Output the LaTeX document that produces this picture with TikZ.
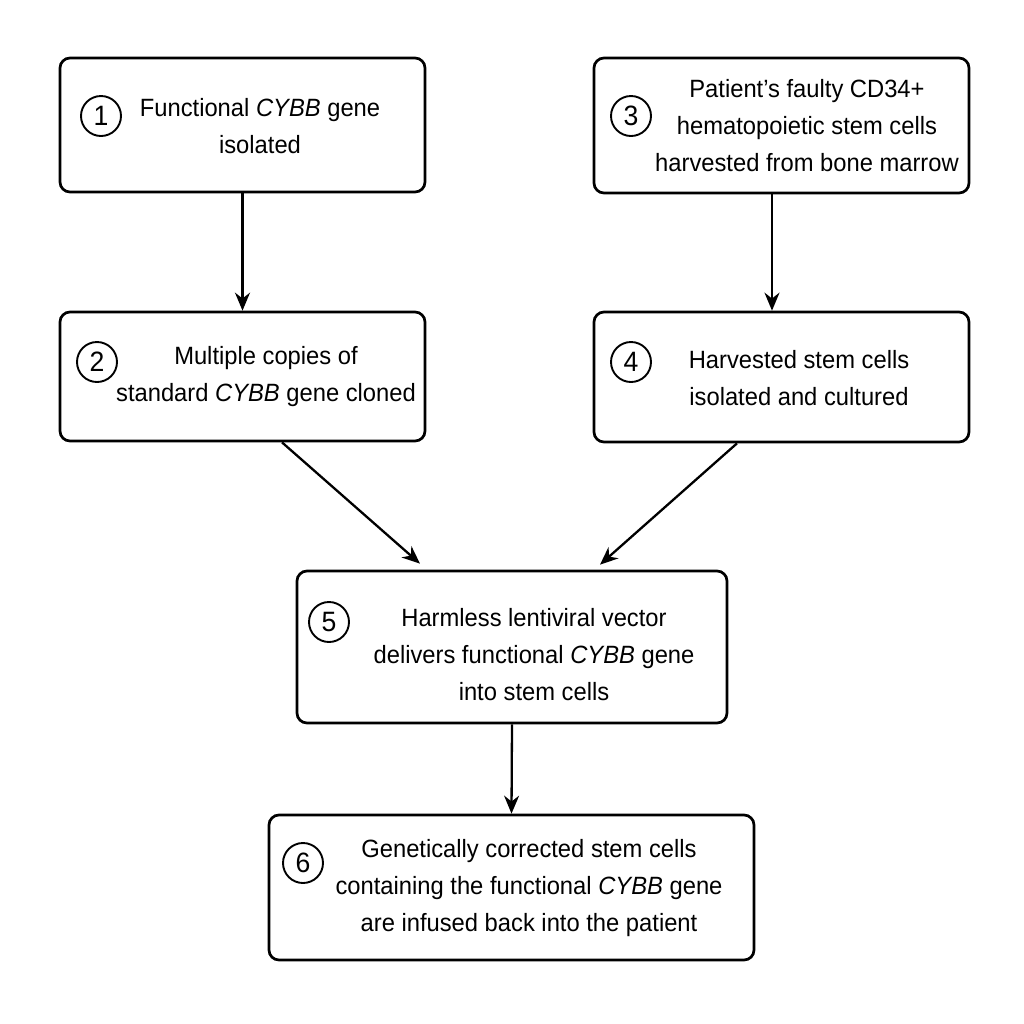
\documentclass[tikz,border=0pt]{standalone}
\usepackage{fontspec}
\setmainfont{Liberation Sans}[FakeStretch=0.95]
\usetikzlibrary{arrows.meta}
\begin{document}
\begin{tikzpicture}[x=0.5pt,y=-0.5pt,
 box/.style={draw, line width=1.35pt, rounded corners=5pt, inner sep=0pt},
 num/.style={draw, circle, line width=0.95pt, minimum size=20pt, inner sep=0pt, font=\fontsize{14}{14}\selectfont},
 txt/.style={align=center, inner sep=0pt, font=\fontsize{12.5}{18.5}\selectfont},
 arr/.style={-{Stealth[length=9pt,width=7.5pt]}, line width=1.15pt}]
\useasboundingbox (0,0) rectangle (1024,1024);
% boxes
\node[box, minimum width=182.5pt, minimum height=67pt] (b1) at (242.5,125) {};
\node[box, minimum width=187.5pt, minimum height=67.5pt] (b3) at (781.5,125.5) {};
\node[box, minimum width=182.5pt, minimum height=64.5pt] (b2) at (242.5,376.5) {};
\node[box, minimum width=187.5pt, minimum height=65pt] (b4) at (781.5,377) {};
\node[box, minimum width=215pt, minimum height=76pt] (b5) at (512,647) {};
\node[box, minimum width=242.5pt, minimum height=72.5pt] (b6) at (511.5,887.5) {};
% numbers
\node[num] (n1) at (101,116) {1};
\node[num] (n2) at (97,362) {2};
\node[num] (n3) at (631,116) {3};
\node[num] (n4) at (631,362) {4};
\node[num] (n5) at (329,622) {5};
\node[num] (n6) at (303,863) {6};
% texts
\node[txt] (t1) at (260,126) {Functional \textit{CYBB} gene\\isolated};
\node[txt] (t3) at (807,126) {Patient’s faulty CD34+\\hematopoietic stem cells\\harvested from bone marrow};
\node[txt] (t2) at (266,377) {Multiple copies of\\standard \textit{CYBB} gene cloned};
\node[txt] (t4) at (799,378) {Harvested stem cells\\isolated and cultured};
\node[txt] (t5) at (534,655) {Harmless lentiviral vector\\delivers functional \textit{CYBB} gene\\into stem cells};
\node[txt] (t6) at (529,888) {Genetically corrected stem cells\\containing the functional \textit{CYBB} gene\\are infused back into the patient};
% arrows
\draw[arr] (b1.south) -- (b2.north);
\draw[arr] ([xshift=-4.75pt]b3.south) -- ([xshift=-4.75pt]b4.north);
\draw[arr] ([xshift=19.75pt]b2.south) -- ([xshift=-46pt,yshift=3pt]b5.north);
\draw[arr] ([xshift=-22.25pt]b4.south) -- ([xshift=44pt,yshift=2.5pt]b5.north);
\draw[arr] (b5.south) -- (b6.north);
\end{tikzpicture}
\end{document}
